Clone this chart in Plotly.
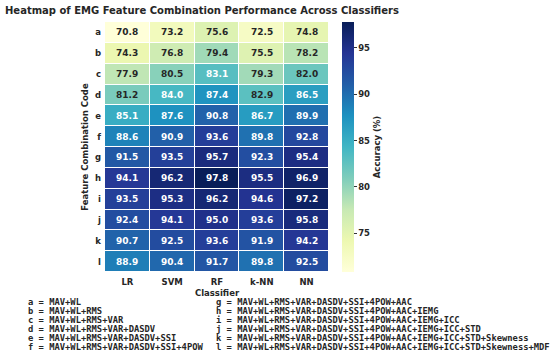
import plotly.graph_objects as go

classifiers = ["LR", "SVM", "RF", "k-NN", "NN"]
codes = ["a", "b", "c", "d", "e", "f", "g", "h", "i", "j", "k", "l"]
lr = [70.8, 74.3, 77.9, 81.2, 85.1, 88.6, 91.5, 94.1, 93.5, 92.4, 90.7, 88.9]
svm = [73.2, 76.8, 80.5, 84.0, 87.6, 90.9, 93.5, 96.2, 95.3, 94.1, 92.5, 90.4]
rf = [75.6, 79.4, 83.1, 87.4, 90.8, 93.6, 95.7, 97.8, 96.2, 95.0, 93.6, 91.7]
knn = [72.5, 75.5, 79.3, 82.9, 86.7, 89.8, 92.3, 95.5, 94.6, 93.6, 91.9, 89.8]
nn = [74.8, 78.2, 82.0, 86.5, 89.9, 92.8, 95.4, 96.9, 97.2, 95.8, 94.2, 92.5]
combos = [
    "MAV+WL",
    "MAV+WL+RMS",
    "MAV+WL+RMS+VAR",
    "MAV+WL+RMS+VAR+DASDV",
    "MAV+WL+RMS+VAR+DASDV+SSI",
    "MAV+WL+RMS+VAR+DASDV+SSI+4POW",
    "MAV+WL+RMS+VAR+DASDV+SSI+4POW+AAC",
    "MAV+WL+RMS+VAR+DASDV+SSI+4POW+AAC+IEMG",
    "MAV+WL+RMS+VAR+DASDV+SSI+4POW+AAC+IEMG+ICC",
    "MAV+WL+RMS+VAR+DASDV+SSI+4POW+AAC+IEMG+ICC+STD",
    "MAV+WL+RMS+VAR+DASDV+SSI+4POW+AAC+IEMG+ICC+STD+Skewness",
    "MAV+WL+RMS+VAR+DASDV+SSI+4POW+AAC+IEMG+ICC+STD+Skewness+MDF",
]
cbar_ticks = [75, 80, 85, 90, 95]

z = [[lr[i], svm[i], rf[i], knn[i], nn[i]] for i in range(len(codes))]
zmin = min(min(r) for r in z)
zmax = max(max(r) for r in z)

ylgnbu = ["#ffffd9", "#edf8b1", "#c7e9b4", "#7fcdbb", "#41b6c4",
          "#1d91c0", "#225ea8", "#253494", "#081d58"]
cscale = [[i / (len(ylgnbu) - 1), c] for i, c in enumerate(ylgnbu)]

FONT = "DejaVu Sans"
TXT = "#262626"
W, H = 550, 362
L, R, T, B = 105, 221, 22, 90
pw = W - L - R
ph = H - T - B

fig = go.Figure()
fig.add_trace(go.Heatmap(
    z=z, x=classifiers, y=codes, colorscale=cscale, zmin=zmin, zmax=zmax,
    xgap=1, ygap=1,
    colorbar=dict(
        x=(342 - L) / pw, xanchor="left", xpad=0, ypad=0,
        y=0.5, yanchor="middle", len=1, lenmode="fraction",
        thickness=12, thicknessmode="pixels", outlinewidth=0,
        tickvals=cbar_ticks, ticks="outside", ticklen=3, tickwidth=1,
        tickcolor="#333", tickfont=dict(family=FONT, size=8.5, color=TXT, weight="bold"),
        title=dict(text="Accuracy (%)", side="right",
                   font=dict(family=FONT, size=8.5, color=TXT, weight="bold")),
    ),
    hoverinfo="skip",
))

annotations = []
for i, c in enumerate(codes):
    for j, k in enumerate(classifiers):
        v = z[i][j]
        annotations.append(dict(
            x=k, y=c, xref="x", yref="y", text=f"{v:.1f}", showarrow=False,
            font=dict(family=FONT, size=9, weight="bold",
                      color="white" if v >= 83.05 else TXT),
        ))

for i, cmb in enumerate(combos):
    col = i // 6
    row = i % 6
    xp = 26 if col == 0 else 214
    yp = 302 + row * 9
    annotations.append(dict(
        x=(xp - L) / pw, y=(H - B - yp) / ph, xref="paper", yref="paper",
        xanchor="left", yanchor="middle", showarrow=False,
        text=f"{codes[i]} = {cmb}",
        font=dict(family="DejaVu Sans Mono", size=8.8, weight="bold", color=TXT),
    ))

fig.update_layout(
    width=W, height=H,
    margin=dict(l=L, r=R, t=T, b=B, autoexpand=False),
    paper_bgcolor="white", plot_bgcolor="white",
    title=dict(text="Heatmap of EMG Feature Combination Performance Across Classifiers",
               x=5 / W, xanchor="left", xref="container", y=1 - 10 / H, yanchor="middle",
               yref="container",
               font=dict(family=FONT, size=10, color=TXT, weight="bold")),
    xaxis=dict(title=dict(text="Classifier", standoff=4,
                          font=dict(family=FONT, size=8.5, color=TXT, weight="bold")),
               tickfont=dict(family=FONT, size=8.5, color=TXT, weight="bold"),
               ticklabelstandoff=3,
               showgrid=False, zeroline=False, ticks="", automargin=False),
    yaxis=dict(title=dict(text="Feature Combination Code", standoff=4,
                          font=dict(family=FONT, size=8.5, color=TXT, weight="bold")),
               tickfont=dict(family=FONT, size=8.5, color=TXT, weight="bold"),
               ticklabelstandoff=3,
               autorange="reversed", showgrid=False, zeroline=False, ticks="",
               automargin=False),
    annotations=annotations,
)

fig.write_html("out.html", config={"displayModeBar": False},
               post_script="document.body.style.margin='0px';")
